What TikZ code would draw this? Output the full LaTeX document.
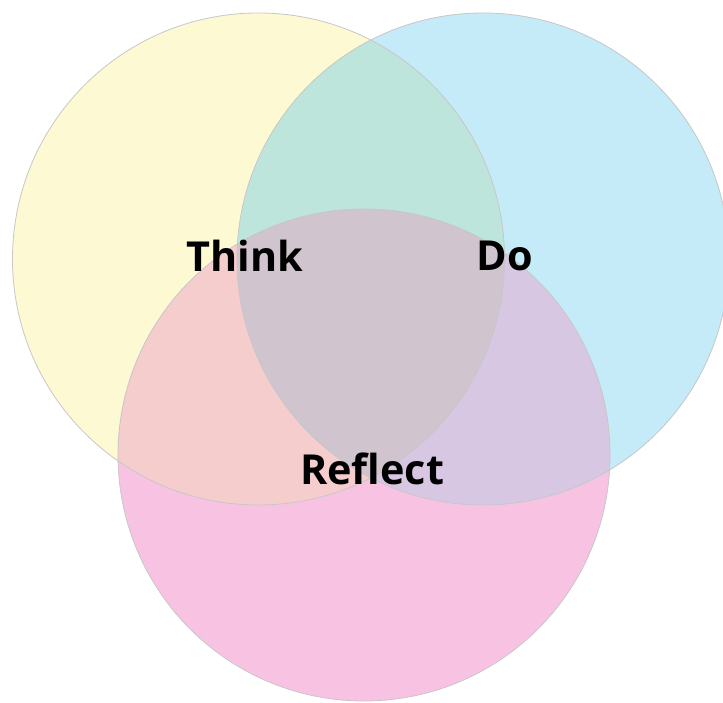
\documentclass[tikz,border=0pt]{standalone}
\usepackage{fontspec}
\setmainfont{Open Sans}
\usepackage{tikz}
\definecolor{thinkcol}{RGB}{253,249,211}
\definecolor{docol}{RGB}{197,234,248}
\definecolor{reflcol}{RGB}{248,195,227}
\definecolor{thinkdo}{RGB}{189,229,220}
\definecolor{thinkrefl}{RGB}{245,205,204}
\definecolor{dorefl}{RGB}{215,199,227}
\definecolor{allthree}{RGB}{208,196,207}
\newcommand{\thinkpath}{(258.5, 443) circle [radius=246]}
\newcommand{\dopath}{(483, 443) circle [radius=246]}
\newcommand{\reflpath}{(364, 247) circle [radius=246]}
\tikzstyle{rim}=[draw=black!22, line width=0.6pt]
\tikzstyle{label}=[font=\bfseries\fontsize{31}{36}\selectfont, text=black, inner sep=0pt]

\begin{document}
\begin{tikzpicture}[x=0.75pt, y=0.75pt]
                    \useasboundingbox (0, 0) rectangle (723, 702);
                    \fill[thinkcol] \thinkpath;
                    \fill[docol] \dopath;
                    \fill[reflcol] \reflpath;
                    \begin{scope}
                        \clip \thinkpath;
                        \fill[thinkdo] \dopath;
                        \fill[thinkrefl] \reflpath;
                    \end{scope}
                    \begin{scope}
                        \clip \dopath;
                        \fill[dorefl] \reflpath;
                        \clip \thinkpath;
                        \fill[allthree] \reflpath;
                    \end{scope}
                    \draw[rim] \thinkpath \dopath \reflpath;
                    \node[label] (think) at (245, 446) {Think};
                    \node[label] (do) at (505, 446) {Do};
                    \node[label] (reflect) at (372, 233) {Reflect};
                \end{tikzpicture}
\end{document}
